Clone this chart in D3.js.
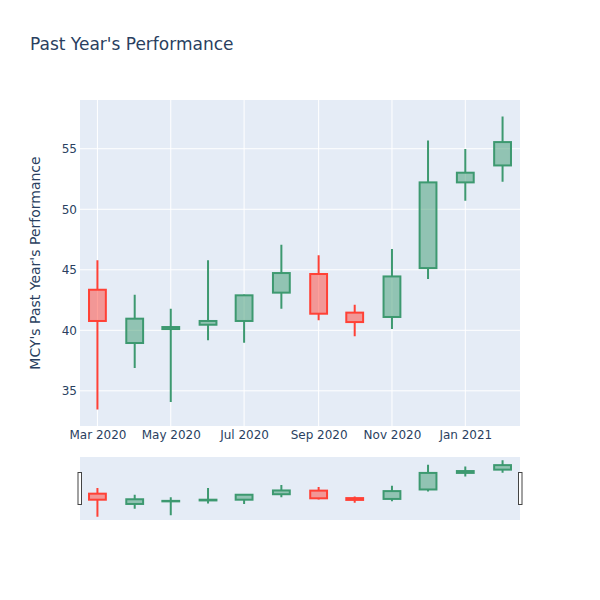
<!DOCTYPE html>
<html>
<head>
<meta charset="utf-8">
<script src="https://cdn.jsdelivr.net/npm/d3@7"></script>
<style>
  body { margin: 0; background: #fff; }
  svg text { font-family: "DejaVu Sans", verdana, arial, sans-serif; fill: #2a3f5f; }
</style>
</head>
<body>
<div id="chart"></div>
<script>
// monthly candles
var dates = ["2020-03-01", "2020-04-01", "2020-05-01", "2020-06-01", "2020-07-01", "2020-08-01",
             "2020-09-01", "2020-10-01", "2020-11-01", "2020-12-01", "2021-01-01", "2021-02-01"];
var opens  = [43.35, 38.95, 40.10, 40.46, 40.77, 43.11, 44.65, 41.46, 41.10, 45.14, 52.22, 53.62];
var highs  = [45.78, 42.94, 41.79, 45.78, 42.95, 47.07, 46.19, 42.12, 46.71, 55.69, 54.97, 57.67];
var lows   = [33.45, 36.89, 34.08, 39.17, 38.98, 41.79, 40.82, 39.50, 40.10, 44.23, 50.70, 52.27];
var closes = [40.77, 40.96, 40.27, 40.77, 42.89, 44.73, 41.37, 40.68, 44.45, 52.22, 53.02, 55.55];
var yTicks = [35, 40, 45, 50, 55];
var xTicks = ["2020-03-01", "2020-05-01", "2020-07-01", "2020-09-01", "2020-11-01", "2021-01-01"];

var width = 600, height = 600;
var plot = {left: 80, right: 520, top: 100, bottom: 426};
var slider = {top: 457, bottom: 520};

var parse = d3.timeParse("%Y-%m-%d");
var data = dates.map(function(d, i) {
    return {date: parse(d), open: opens[i], high: highs[i], low: lows[i], close: closes[i]};
});

var day = 864e5;
var x = d3.scaleTime()
    .domain([new Date(data[0].date - 14.5 * day), new Date(+data[data.length - 1].date + 14.5 * day)])
    .range([plot.left, plot.right]);

var yMin = d3.min(lows), yMax = d3.max(highs);
var pad = (yMax - yMin) * 0.056;
var y = d3.scaleLinear()
    .domain([yMin - pad, yMax + pad])
    .range([plot.bottom, plot.top]);

// slider uses the same value range, squeezed into the slider strip
var ys = y.copy().range([slider.bottom, slider.top]);

var svg = d3.select("#chart").append("svg")
    .attr("width", width)
    .attr("height", height);

// plot background
svg.append("rect")
    .attr("x", plot.left).attr("y", plot.top)
    .attr("width", plot.right - plot.left).attr("height", plot.bottom - plot.top)
    .attr("fill", "#E5ECF6");

// grid
svg.append("g").selectAll("line")
    .data(yTicks).enter().append("line")
    .attr("x1", plot.left).attr("x2", plot.right)
    .attr("y1", d => y(d)).attr("y2", d => y(d))
    .attr("stroke", "#fff").attr("stroke-width", 1);

svg.append("g").selectAll("line")
    .data(xTicks).enter().append("line")
    .attr("x1", d => x(parse(d))).attr("x2", d => x(parse(d)))
    .attr("y1", plot.top).attr("y2", plot.bottom)
    .attr("stroke", "#fff").attr("stroke-width", 1);

// axes (plotly style: no domain line, no tick marks)
var yAxis = d3.axisLeft(y).tickValues(yTicks).tickSize(0).tickPadding(3);
var gy = svg.append("g")
    .attr("transform", "translate(" + plot.left + ",0)")
    .call(yAxis);
gy.select(".domain").remove();
gy.selectAll("text").style("font-size", "12px").attr("fill", "#2a3f5f");

var xAxis = d3.axisBottom(x)
    .tickValues(xTicks.map(parse))
    .tickFormat(d3.timeFormat("%b %Y"))
    .tickSize(0).tickPadding(4);
var gx = svg.append("g")
    .attr("transform", "translate(0," + plot.bottom + ")")
    .call(xAxis);
gx.select(".domain").remove();
gx.selectAll("text").style("font-size", "12px").attr("fill", "#2a3f5f");

// candles
var up = {line: "#3D9970", fill: "rgba(61,153,112,0.5)"};
var down = {line: "#FF4136", fill: "rgba(255,65,54,0.5)"};
var halfW = 7 * day;

function drawCandles(g, yScale, lw) {
    var c = g.selectAll("g.candle")
        .data(data).enter().append("g")
        .attr("class", "candle");

    c.each(function(d) {
        var col = d.close >= d.open ? up : down;
        var sel = d3.select(this);
        var x0 = x(new Date(d.date - halfW)), x1 = x(new Date(+d.date + halfW)), xm = x(d.date);
        var top = yScale(Math.max(d.open, d.close)), bot = yScale(Math.min(d.open, d.close));
        sel.append("path")
            .attr("d", "M" + xm + "," + yScale(d.high) + "V" + top + "M" + xm + "," + bot + "V" + yScale(d.low))
            .attr("stroke", col.line).attr("stroke-width", lw).attr("fill", "none");
        sel.append("rect")
            .attr("x", x0).attr("y", top)
            .attr("width", x1 - x0).attr("height", Math.max(bot - top, 0.5))
            .attr("fill", col.fill)
            .attr("stroke", col.line).attr("stroke-width", lw);
    });
}

drawCandles(svg.append("g"), y, 2);

// range slider
svg.append("rect")
    .attr("x", plot.left).attr("y", slider.top)
    .attr("width", plot.right - plot.left).attr("height", slider.bottom - slider.top)
    .attr("fill", "#E5ECF6");

drawCandles(svg.append("g"), ys, 2);

var handleY = slider.top + (slider.bottom - slider.top) / 2;
svg.append("g").selectAll("rect")
    .data([plot.left - 2, plot.right - 1.5]).enter().append("rect")
    .attr("x", d => d).attr("y", handleY - 16)
    .attr("width", 3.5).attr("height", 32)
    .attr("fill", "#fff").attr("stroke", "#444").attr("stroke-width", 1);

// titles
svg.append("text")
    .attr("x", 30).attr("y", 50)
    .style("font-size", "17px")
    .text("Past Year's Performance");

svg.append("text")
    .attr("transform", "translate(40," + ((plot.top + plot.bottom) / 2) + ") rotate(-90)")
    .attr("text-anchor", "middle")
    .style("font-size", "14px")
    .text("MCY's Past Year's Performance");
</script>
</body>
</html>
